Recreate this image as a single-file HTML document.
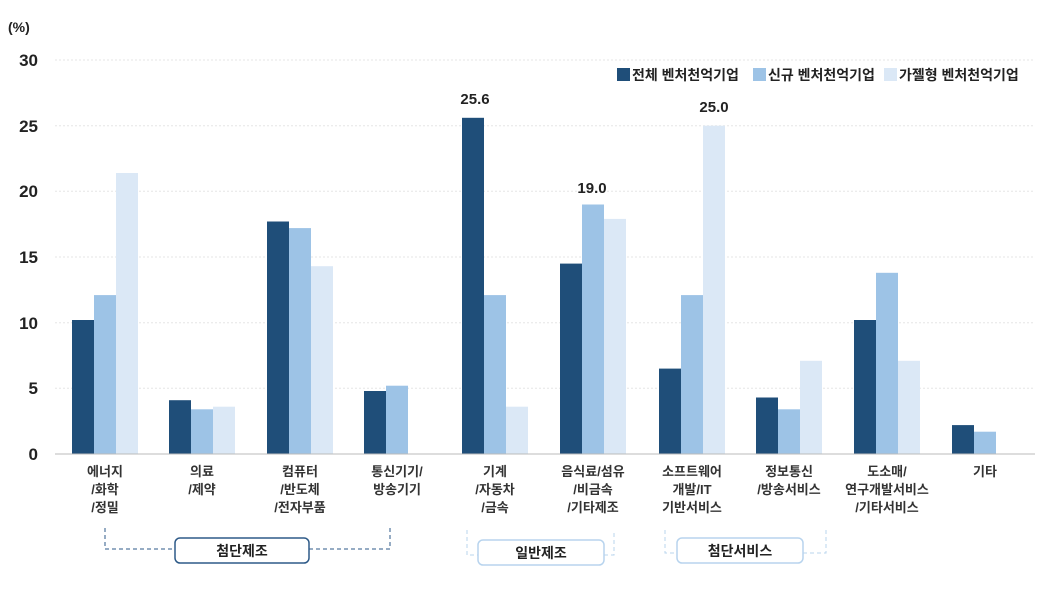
<!DOCTYPE html>
<html><head><meta charset="utf-8"><style>
body{margin:0;background:#fff;}
svg text{font-family:"Liberation Sans","Noto Sans CJK KR",sans-serif;font-weight:bold;}
</style></head><body>
<svg width="1039" height="585" xmlns="http://www.w3.org/2000/svg">
<text x="8" y="32" font-size="14" fill="#222">(%)</text>
<g stroke="#e6e6e6" stroke-dasharray="2,2">
<line x1="55" x2="1035" y1="60" y2="60"/><line x1="55" x2="1035" y1="125.7" y2="125.7"/><line x1="55" x2="1035" y1="191.3" y2="191.3"/><line x1="55" x2="1035" y1="257" y2="257"/><line x1="55" x2="1035" y1="322.7" y2="322.7"/><line x1="55" x2="1035" y1="388.3" y2="388.3"/>
</g>
<g fill="#1f4e79">
<rect x="72" y="320" width="22" height="134"/>
<rect x="169" y="400.2" width="22" height="53.8"/>
<rect x="267" y="221.5" width="22" height="232.5"/>
<rect x="364" y="391" width="22" height="63"/>
<rect x="462" y="117.8" width="22" height="336.2"/>
<rect x="560" y="263.6" width="22" height="190.4"/>
<rect x="659" y="368.6" width="22" height="85.4"/>
<rect x="756" y="397.5" width="22" height="56.5"/>
<rect x="854" y="320" width="22" height="134"/>
<rect x="952" y="425.1" width="22" height="28.9"/>
</g>
<g fill="#9dc3e6">
<rect x="94" y="295.1" width="22" height="158.9"/>
<rect x="191" y="409.3" width="22" height="44.7"/>
<rect x="289" y="228.1" width="22" height="225.9"/>
<rect x="386" y="385.7" width="22" height="68.3"/>
<rect x="484" y="295.1" width="22" height="158.9"/>
<rect x="582" y="204.5" width="22" height="249.5"/>
<rect x="681" y="295.1" width="22" height="158.9"/>
<rect x="778" y="409.3" width="22" height="44.7"/>
<rect x="876" y="272.8" width="22" height="181.2"/>
<rect x="974" y="431.7" width="22" height="22.3"/>
</g>
<g fill="#dbe8f6">
<rect x="116" y="173" width="22" height="281"/>
<rect x="213" y="406.7" width="22" height="47.3"/>
<rect x="311" y="266.2" width="22" height="187.8"/>
<rect x="506" y="406.7" width="22" height="47.3"/>
<rect x="604" y="218.9" width="22" height="235.1"/>
<rect x="703" y="125.7" width="22" height="328.3"/>
<rect x="800" y="360.8" width="22" height="93.2"/>
<rect x="898" y="360.8" width="22" height="93.2"/>
</g>
<line x1="55" x2="1035" y1="454" y2="454" stroke="#bbb"/>
<g font-size="17" fill="#222" text-anchor="end" font-weight="normal">
<text x="38" y="66">30</text><text x="38" y="132">25</text><text x="38" y="197">20</text><text x="38" y="263">15</text><text x="38" y="329">10</text><text x="38" y="394">5</text><text x="38" y="460">0</text>
</g>
<g font-size="15" fill="#222" text-anchor="middle">
<text x="475" y="104">25.6</text><text x="592" y="193">19.0</text><text x="714" y="112">25.0</text>
</g>
<g font-size="13" fill="#333" text-anchor="middle">
<text x="105" y="476">에너지</text><text x="105" y="494">/화학</text><text x="105" y="512">/정밀</text>
<text x="202" y="476">의료</text><text x="202" y="494">/제약</text>
<text x="300" y="476">컴퓨터</text><text x="300" y="494">/반도체</text><text x="300" y="512">/전자부품</text>
<text x="397" y="476">통신기기/</text><text x="397" y="494">방송기기</text>
<text x="495" y="476">기계</text><text x="495" y="494">/자동차</text><text x="495" y="512">/금속</text>
<text x="593" y="476">음식료/섬유</text><text x="593" y="494">/비금속</text><text x="593" y="512">/기타제조</text>
<text x="692" y="476">소프트웨어</text><text x="692" y="494">개발/IT</text><text x="692" y="512">기반서비스</text>
<text x="789" y="476">정보통신</text><text x="789" y="494">/방송서비스</text>
<text x="887" y="476">도소매/</text><text x="887" y="494">연구개발서비스</text><text x="887" y="512">/기타서비스</text>
<text x="985" y="476">기타</text>
</g>
<g fill="none" stroke-dasharray="4,3">
<path d="M105 528 V549 H175 M309 549 H390 V528" stroke="#2e5a88"/>
<path d="M467 530 V555 H478 M604 555 H614 V530" stroke="#b8d4ee"/>
<path d="M665 530 V553 H677 M803 553 H826 V530" stroke="#b8d4ee"/>
</g>
<rect x="175" y="538" width="134" height="25" rx="5" fill="#fff" stroke="#2e5a88" stroke-width="1.5"/>
<rect x="478" y="540" width="126" height="25" rx="5" fill="#fff" stroke="#b8d4ee" stroke-width="1.5"/>
<rect x="677" y="538" width="126" height="25" rx="5" fill="#fff" stroke="#b8d4ee" stroke-width="1.5"/>
<g font-size="14" fill="#222" text-anchor="middle">
<text x="242" y="556">첨단제조</text><text x="541" y="558">일반제조</text><text x="740" y="556">첨단서비스</text>
</g>
<g font-size="14" fill="#222">
<rect x="617" y="68" width="13" height="13" fill="#1f4e79"/><text x="632" y="80">전체 벤처천억기업</text>
<rect x="753" y="68" width="13" height="13" fill="#9dc3e6"/><text x="768" y="80">신규 벤처천억기업</text>
<rect x="884" y="68" width="13" height="13" fill="#dbe8f6"/><text x="899" y="80">가젤형 벤처천억기업</text>
</g>
</svg>
</body></html>
